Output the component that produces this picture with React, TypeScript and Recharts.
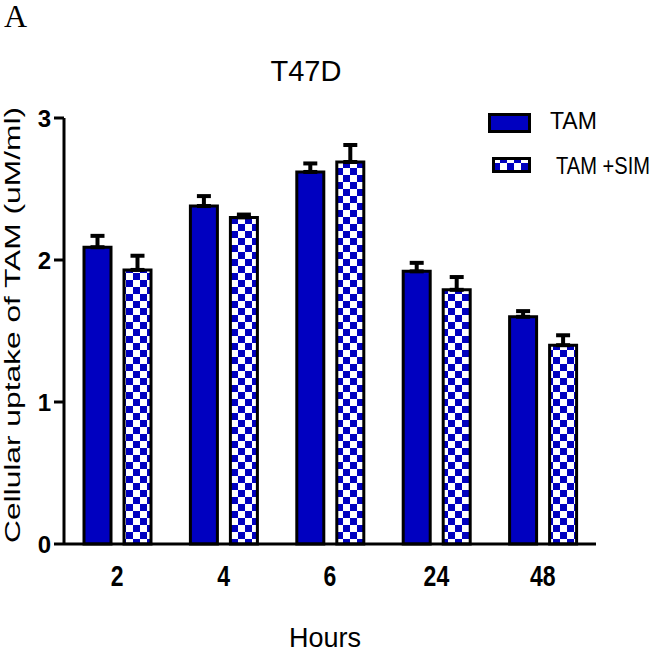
import React from "react";
import {
  BarChart,
  Bar,
  XAxis,
  YAxis,
  Legend,
  ErrorBar,
} from "recharts";

const hours = ["2", "4", "6", "24", "48"];
const tam = [2.09, 2.38, 2.62, 1.92, 1.6];
const tamErr = [0.08, 0.07, 0.06, 0.06, 0.04];
const tamSim = [1.93, 2.3, 2.69, 1.79, 1.4];
const tamSimErr = [0.1, 0.02, 0.12, 0.09, 0.07];
const yTicks = [0, 1, 2, 3];

const BLUE = "#0000c0";
const FONT = "'Liberation Sans', Arial, sans-serif";

const data = hours.map((h, i) => ({
  hour: h,
  tam: tam[i],
  tamErr: [0, tamErr[i]],
  tamSim: tamSim[i],
  tamSimErr: [0, tamSimErr[i]],
}));

const Checker = ({ id }: { id: string }) => (
  <pattern id={id} patternUnits="userSpaceOnUse" width={14} height={14}>
    <rect x={0} y={0} width={14} height={14} fill="#fff" />
    <rect x={0} y={0} width={7} height={7} fill={BLUE} />
    <rect x={7} y={7} width={7} height={7} fill={BLUE} />
  </pattern>
);

const renderLegend = () => (
  <svg width={180} height={90} style={{ overflow: "visible" }}>
    <defs>
      <Checker id="legendChecker" />
    </defs>
    <rect x={3.5} y={14.5} width={40} height={17} fill={BLUE} stroke="#000" strokeWidth={3} />
    <text x={64} y={29} fontSize={23} fontFamily={FONT} fill="#000">
      TAM
    </text>
    <rect x={7.5} y={58.5} width={36} height={13} fill="url(#legendChecker)" stroke="#000" strokeWidth={3} />
    <text
      x={70}
      y={74}
      fontSize={23}
      fontFamily={FONT}
      fill="#000"
      textLength={94}
      lengthAdjust="spacingAndGlyphs"
    >
      TAM +SIM
    </text>
  </svg>
);

const XTick = (props: any) => {
  const { x, y, payload } = props;
  return (
    <g transform={`translate(${x},${y})`}>
      <text
        x={0}
        y={0}
        textAnchor="middle"
        transform="scale(1,1.3)"
        dy={26}
        fontSize={23}
        fontWeight="bold"
        fontFamily={FONT}
        fill="#000"
      >
        {payload.value}
      </text>
    </g>
  );
};

const YLabel = () => (
  <text
    x={20}
    y={325}
    transform="rotate(-90, 20, 325)"
    textAnchor="middle"
    fontSize={22}
    fontFamily={FONT}
    fill="#000"
    textLength={436}
    lengthAdjust="spacingAndGlyphs"
  >
    Cellular uptake of TAM (uM/ml)
  </text>
);

const XLabel = () => (
  <text x={325} y={647} textAnchor="middle" fontSize={27} fontFamily={FONT} fill="#000">
    Hours
  </text>
);

export default function App() {
  return (
    <div style={{ position: "absolute", left: 0, top: 0, width: 666, height: 654, background: "#fff" }}>
      <BarChart
        width={666}
        height={654}
        data={data}
        margin={{ top: 118, right: 70, bottom: 80, left: 0 }}
        barSize={27}
        barGap={13}
      >
        <defs>
          <Checker id="barChecker" />
        </defs>
        <XAxis
          dataKey="hour"
          height={30}
          axisLine={{ stroke: "#000", strokeWidth: 3 }}
          tickLine={false}
          tick={<XTick />}
          interval={0}
          label={{ content: <XLabel /> }}
        />
        <YAxis
          width={64}
          domain={[0, 3]}
          ticks={yTicks}
          interval={0}
          axisLine={{ stroke: "#000", strokeWidth: 3 }}
          tickLine={{ stroke: "#000", strokeWidth: 3 }}
          tickSize={10}
          tickMargin={3}
          tick={{ fill: "#000", fontSize: 24, fontWeight: "bold", fontFamily: FONT }}
          label={{ content: <YLabel /> }}
        />
        <Legend
          content={renderLegend}
          layout="horizontal"
          verticalAlign="middle"
          align="center"
          wrapperStyle={{ left: 486, top: 100, width: 180, height: 90 }}
        />
        <Bar dataKey="tam" name="TAM" fill={BLUE} stroke="#000" strokeWidth={3} isAnimationActive={false}>
          <ErrorBar dataKey="tamErr" width={7} stroke="#000" strokeWidth={4} direction="y" />
        </Bar>
        <Bar
          dataKey="tamSim"
          name="TAM +SIM"
          fill="url(#barChecker)"
          stroke="#000"
          strokeWidth={3}
          isAnimationActive={false}
        >
          <ErrorBar dataKey="tamSimErr" width={7} stroke="#000" strokeWidth={4} direction="y" />
        </Bar>
      </BarChart>
      <div
        style={{
          position: "absolute",
          left: 4,
          top: 3,
          lineHeight: "26px",
          fontFamily: "'Liberation Serif', 'Times New Roman', serif",
          fontSize: 32,
          color: "#000",
        }}
      >
        A
      </div>
      <div
        style={{
          position: "absolute",
          left: 0,
          width: 612,
          top: 55,
          textAlign: "center",
          fontFamily: FONT,
          fontSize: 29,
          color: "#000",
        }}
      >
        T47D
      </div>
    </div>
  );
}
